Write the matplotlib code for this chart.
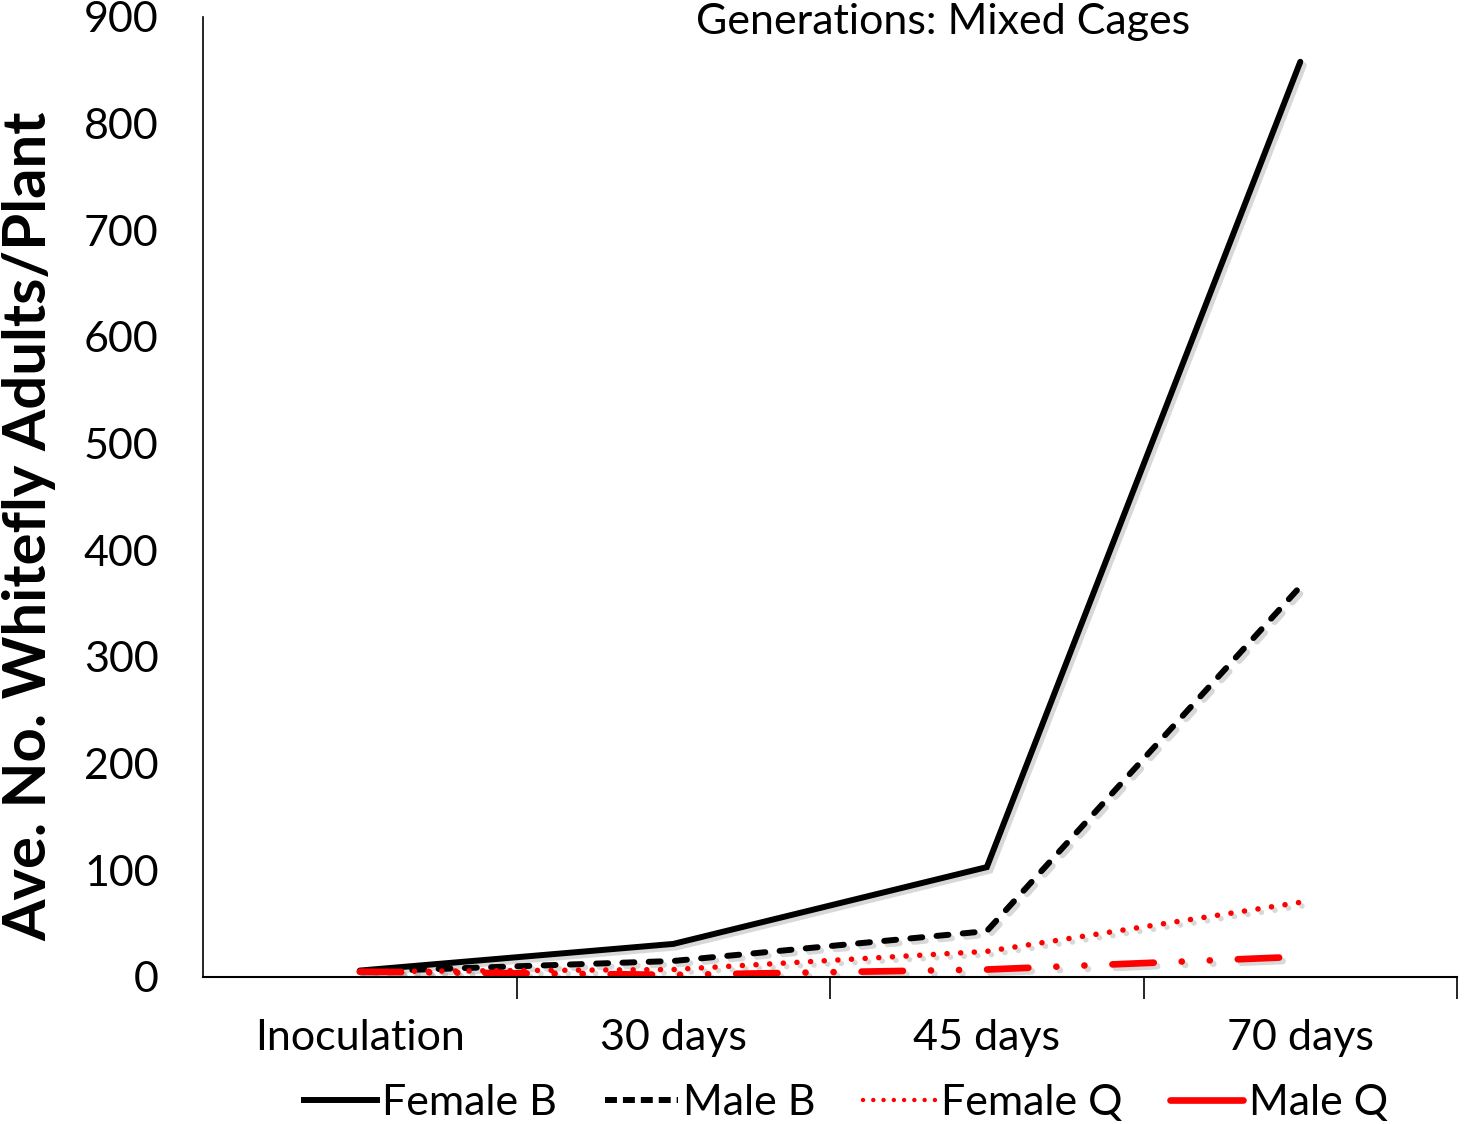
import matplotlib
matplotlib.use("Agg")
import matplotlib.pyplot as plt
import matplotlib.patheffects as pe
from matplotlib.lines import Line2D

plt.rcParams['font.family'] = ['Lato', 'DejaVu Sans']

categories = ["Inoculation", "30 days", "45 days", "70 days"]
series_names = ["Female B", "Male B", "Female Q", "Male Q"]
female_b = [6, 31, 103, 858]
male_b = [5, 15, 43, 366]
female_q = [5, 7, 24, 70]
male_q = [5, 2, 7, 19]
yticks = [0, 100, 200, 300, 400, 500, 600, 700, 800, 900]

fig = plt.figure(figsize=(14.66, 11.24), dpi=100)
ax = fig.add_axes([0.1385, 0.1308, 0.8554, 0.8541])

x = list(range(len(categories)))
shadow = [pe.SimpleLineShadow(offset=(2.5, -2.5), shadow_color='gray', alpha=0.3), pe.Normal()]

ax.plot(x, female_b, color='black', lw=4.3, solid_capstyle='round', solid_joinstyle='miter',
        path_effects=shadow)
ax.plot(x, male_b, color='black', lw=4.3, linestyle=(0, (2.0, 2.4)), dash_capstyle='round',
        path_effects=shadow)
ax.plot(x, female_q, color='#ff0000', lw=4.0, linestyle=(0, (0.01, 2.45)), dash_capstyle='round',
        path_effects=shadow)
ax.plot(x, male_q, color='#ff0000', lw=4.8, linestyle=(0, (6.2, 4.2, 0.01, 4.2, 0.01, 4.2)),
        dash_capstyle='round', path_effects=shadow)

ax.set_xlim(-0.5, 3.5)
ax.set_ylim(0, 900)
ax.set_yticks(yticks)
ax.set_yticklabels([str(v) for v in yticks], fontsize=31)
ax.set_xticks(x)
ax.set_xticklabels(categories, fontsize=31)
ax.set_xticks([0.5, 1.5, 2.5, 3.5], minor=True)
ax.tick_params(axis='x', which='major', length=0, pad=30)
ax.tick_params(axis='x', which='minor', length=16, width=1.2)
ax.tick_params(axis='y', length=0, pad=32)
ax.spines['top'].set_visible(False)
ax.spines['right'].set_visible(False)
ax.spines['left'].set_linewidth(1.2)
ax.spines['bottom'].set_linewidth(1.5)

ax.set_ylabel("Ave. No. Whitefly Adults/Plant", fontsize=43, fontweight='bold')
ax.yaxis.set_label_coords(-0.117, 0.469)
ax.text(0.59, 0.995, "Generations: Mixed Cages", transform=ax.transAxes, ha='center', va='center', fontsize=31)

handles = [
    Line2D([], [], color='black', lw=4.3),
    Line2D([], [], color='black', lw=4.3, linestyle=(0, (2.0, 1.0))),
    Line2D([], [], color='#ff0000', lw=3.2, linestyle=(0, (0.01, 2.3)), dash_capstyle='round'),
    Line2D([], [], color='#ff0000', lw=4.8, solid_capstyle='round'),
]
leg = fig.legend(handles, series_names, loc='center', bbox_to_anchor=(0.577, 0.019), ncol=4,
                 frameon=False, fontsize=31, handlelength=1.7, handletextpad=0.12, columnspacing=1.1)

fig.savefig("out.png", dpi=100)
